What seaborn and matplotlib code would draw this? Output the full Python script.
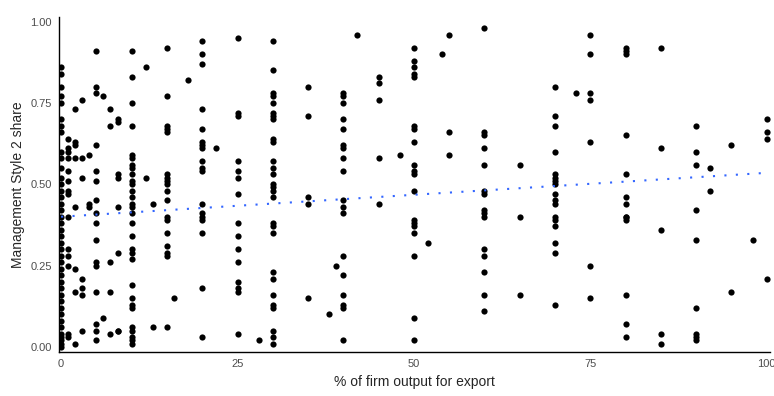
import numpy as np
import pandas as pd
import matplotlib
matplotlib.use('Agg')
import matplotlib.pyplot as plt
import seaborn as sns

# export share levels (x) and the style-2 shares observed at each level (y)
export_levels = [0, 1, 2, 3, 4, 5, 6, 7, 8, 10, 12, 13, 15, 16, 18, 20, 22, 25, 28, 30,
                 35, 38, 39, 40, 42, 45, 48, 50, 52, 54, 55, 60, 65, 70, 73, 75, 80,
                 85, 90, 92, 95, 98, 100]
share_by_level = [
    [0.86, 0.84, 0.80, 0.77, 0.75, 0.70, 0.68, 0.66, 0.60, 0.58, 0.55, 0.52, 0.50, 0.48,
     0.46, 0.44, 0.42, 0.40, 0.38, 0.36, 0.34, 0.32, 0.30, 0.28, 0.26, 0.24, 0.22, 0.20,
     0.18, 0.16, 0.14, 0.12, 0.10, 0.08, 0.06, 0.04, 0.03, 0.02, 0.01, 0.00],
    [0.64, 0.61, 0.60, 0.58, 0.54, 0.51, 0.48, 0.47, 0.40, 0.30, 0.28, 0.25, 0.04, 0.03],
    [0.73, 0.63, 0.62, 0.58, 0.43, 0.24, 0.17, 0.01],
    [0.76, 0.58, 0.52, 0.21, 0.18, 0.16, 0.05],
    [0.59, 0.44, 0.43],
    [0.91, 0.80, 0.78, 0.62, 0.54, 0.51, 0.45, 0.41, 0.38, 0.33, 0.26, 0.25, 0.17, 0.07,
     0.05, 0.02],
    [0.77, 0.09],
    [0.73, 0.68, 0.26, 0.17, 0.04],
    [0.70, 0.69, 0.53, 0.52, 0.43, 0.29, 0.05, 0.05],
    [0.91, 0.83, 0.75, 0.68, 0.59, 0.58, 0.56, 0.55, 0.53, 0.51, 0.50, 0.48, 0.46, 0.44,
     0.43, 0.41, 0.38, 0.34, 0.30, 0.29, 0.27, 0.19, 0.15, 0.13, 0.12, 0.06, 0.05, 0.03,
     0.02, 0.01],
    [0.86, 0.52],
    [0.44, 0.06],
    [0.92, 0.77, 0.68, 0.67, 0.66, 0.53, 0.52, 0.51, 0.50, 0.48, 0.45, 0.40, 0.39, 0.35,
     0.31, 0.29, 0.28, 0.06],
    [0.15],
    [0.82],
    [0.94, 0.90, 0.87, 0.73, 0.67, 0.63, 0.62, 0.61, 0.57, 0.55, 0.54, 0.44, 0.41, 0.40,
     0.39, 0.35, 0.18, 0.03],
    [0.61],
    [0.95, 0.72, 0.71, 0.57, 0.54, 0.52, 0.47, 0.38, 0.34, 0.30, 0.26, 0.20, 0.18, 0.17,
     0.04],
    [0.02],
    [0.94, 0.85, 0.78, 0.77, 0.75, 0.72, 0.71, 0.70, 0.64, 0.63, 0.57, 0.55, 0.53, 0.50,
     0.49, 0.48, 0.46, 0.38, 0.37, 0.35, 0.23, 0.21, 0.16, 0.13, 0.12, 0.05, 0.03, 0.01],
    [0.80, 0.71, 0.46, 0.44, 0.15],
    [0.10],
    [0.25],
    [0.78, 0.77, 0.75, 0.70, 0.67, 0.62, 0.61, 0.58, 0.54, 0.45, 0.43, 0.41, 0.28, 0.22,
     0.16, 0.13, 0.12, 0.02],
    [0.96],
    [0.83, 0.81, 0.76, 0.58, 0.44],
    [0.59],
    [0.92, 0.88, 0.86, 0.84, 0.83, 0.68, 0.67, 0.63, 0.56, 0.54, 0.53, 0.48, 0.39, 0.38,
     0.37, 0.35, 0.28, 0.09, 0.02],
    [0.32],
    [0.90],
    [0.96, 0.66, 0.59],
    [0.98, 0.66, 0.65, 0.61, 0.56, 0.48, 0.47, 0.42, 0.41, 0.40, 0.30, 0.28, 0.23, 0.16,
     0.11],
    [0.56, 0.40, 0.16],
    [0.80, 0.71, 0.68, 0.60, 0.53, 0.52, 0.51, 0.50, 0.47, 0.45, 0.44, 0.40, 0.39, 0.37,
     0.32, 0.29, 0.13],
    [0.78],
    [0.96, 0.90, 0.78, 0.76, 0.63, 0.25, 0.15],
    [0.92, 0.91, 0.90, 0.65, 0.53, 0.46, 0.44, 0.40, 0.40, 0.39, 0.16, 0.07, 0.03],
    [0.92, 0.61, 0.36, 0.04, 0.01],
    [0.68, 0.60, 0.56, 0.42, 0.33, 0.12, 0.04, 0.03, 0.02],
    [0.55, 0.48],
    [0.62, 0.17],
    [0.33],
    [0.70, 0.66, 0.64, 0.21],
]

trend_export = [0, 100]
trend_share = [0.40, 0.535]

x_ticks = [0, 25, 50, 75, 100]
y_ticks = [0.00, 0.25, 0.50, 0.75, 1.00]
y_tick_labels = ['0.00', '0.25', '0.50', '0.75', '1.00']


def main():
    rows = []
    for lvl, shares in zip(export_levels, share_by_level):
        for s in shares:
            rows.append((lvl, s))
    df = pd.DataFrame(rows, columns=['export', 'style2'])
    trend = pd.DataFrame({'export': trend_export, 'style2': trend_share})

    sns.set_style('white')
    plt.rcParams['font.family'] = ['Liberation Sans', 'DejaVu Sans']

    fig = plt.figure(figsize=(7.74, 3.96), dpi=100)
    ax = fig.add_axes([0.0762, 0.111, 0.919, 0.846])

    sns.scatterplot(data=df, x='export', y='style2', color='black', s=20,
                    linewidth=0, ax=ax, zorder=3)
    # dotted linear fit
    sns.lineplot(data=trend, x='export', y='style2', color='#3366FF', ax=ax,
                 linewidth=1.5, linestyle=(0, (1, 4.5)), zorder=4)

    ax.set_xlim(-0.3, 100.5)
    ax.set_ylim(-0.016, 1.014)
    ax.set_xticks(x_ticks)
    ax.set_yticks(y_ticks)
    ax.set_yticklabels(y_tick_labels)
    ax.tick_params(axis='both', colors='#4D4D4D', labelsize=8, length=3, width=0.8,
                   direction='out', pad=2)
    for side in ['top', 'right']:
        ax.spines[side].set_visible(False)
    for side in ['left', 'bottom']:
        ax.spines[side].set_color('black')
        ax.spines[side].set_linewidth(1.0)
    ax.set_xlabel('% of firm output for export', fontsize=10, labelpad=4)
    ax.set_ylabel('Management Style 2 share', fontsize=10, labelpad=4)
    ax.grid(False)

    fig.savefig('out.png', dpi=100)


if __name__ == '__main__':
    main()
